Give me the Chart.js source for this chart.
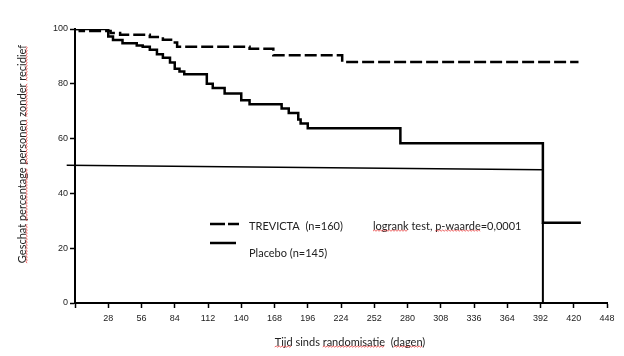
<!DOCTYPE html>
<html><head><meta charset="utf-8">
<script src="https://cdn.jsdelivr.net/npm/chart.js@4/dist/chart.umd.min.js"></script>
<style>html,body{margin:0;padding:0;background:#fff}#wrap{position:relative;width:624px;height:356px}</style>
</head><body><div id="wrap"><canvas id="c" width="624" height="356"></canvas></div>
<script>
// ---- data ----
const trevictaDays = [0, 4, 30, 38, 63, 74, 83, 86, 147, 167, 225, 424];
const trevictaPct  = [100, 99.3, 98.5, 97.9, 97.1, 96.1, 95.1, 93.5, 92.8, 90.4, 88.0, 88.0];
const placeboDays = [0, 28, 32, 40, 52, 57, 63, 69, 74, 80, 84, 88, 92, 111, 116, 126, 140, 147, 174, 180, 188, 190, 196, 274, 394, 426];
const placeboPct  = [100, 97.3, 96, 94.8, 94, 93.5, 92.4, 90.8, 89.5, 87.8, 85.5, 84.5, 83.5, 80, 78.5, 76.5, 74, 72.5, 71, 69.3, 67, 65.5, 63.8, 58.3, 29.3, 29.3];
const placeboDropDays = [394, 394];
const placeboDropPct  = [29.3, 0];
const refLineDays = [-7, 394];
const refLinePct  = [50.3, 48.6];
const xTickValues = [0, 28, 56, 84, 112, 140, 168, 196, 224, 252, 280, 308, 336, 364, 392, 420, 448];
const yTickValues = [0, 20, 40, 60, 80, 100];
const legendLabels = ['TREVICTA  (n=160)', 'Placebo (n=145)'];
const testLabel = 'logrank test, p-waarde=0,0001';
const xTitle = 'Tijd sinds randomisatie  (dagen)';
const yTitle = 'Geschat percentage personen zonder recidief';

const pts = (xs, ys) => xs.map((x, i) => ({x: x, y: ys[i]}));
const TEXT_FONT = '11px Lato, "Open Sans", sans-serif';

function squiggle(ctx, x1, x2, y) {
  ctx.save();
  ctx.strokeStyle = '#e84040';
  ctx.lineWidth = 0.8;
  ctx.beginPath();
  let up = true;
  ctx.moveTo(x1, y);
  for (let x = x1 + 1.5; x <= x2; x += 1.5) { ctx.lineTo(x, up ? y - 1 : y + 0.2); up = !up; }
  ctx.stroke();
  ctx.restore();
}
function underlineWords(ctx, text, x0, y, words) {
  // x0 = left of text, text already drawn with left alignment
  words.forEach(w => {
    const idx = text.indexOf(w);
    if (idx < 0) return;
    const a = x0 + ctx.measureText(text.slice(0, idx)).width;
    const b = a + ctx.measureText(w).width;
    squiggle(ctx, a, b, y);
  });
}

const annotate = {
  id: 'annotate',
  afterDraw(chart) {
    const ctx = chart.ctx;
    ctx.save();
    // legend samples
    ctx.strokeStyle = '#000';
    ctx.lineWidth = 2.5;
    ctx.beginPath(); ctx.moveTo(210, 224); ctx.lineTo(225, 224); ctx.moveTo(228, 224); ctx.lineTo(239, 224); ctx.stroke();
    ctx.beginPath(); ctx.moveTo(210, 243); ctx.lineTo(236, 243); ctx.stroke();
    ctx.font = TEXT_FONT;
    ctx.fillStyle = '#222';
    ctx.textBaseline = 'middle';
    ctx.textAlign = 'left';
    ctx.fillText(legendLabels[0], 249, 226);
    ctx.fillText(legendLabels[1], 249, 253);
    ctx.fillText(testLabel, 373, 226);
    underlineWords(ctx, testLabel, 373, 231, ['logrank', 'p-waarde']);
    // x title
    const xw = ctx.measureText(xTitle).width;
    const xl = 350 - xw / 2;
    ctx.fillText(xTitle, xl, 342);
    underlineWords(ctx, xTitle, xl, 347, ['Tijd', 'randomisatie', 'dagen']);
    // y title
    ctx.translate(22, 154);
    ctx.rotate(-Math.PI / 2);
    const yw = ctx.measureText(yTitle).width;
    ctx.fillText(yTitle, -yw / 2, 0);
    underlineWords(ctx, yTitle, -yw / 2, 5, ['Geschat', 'percentage', 'personen', 'zonder', 'recidief']);
    ctx.restore();
  }
};

new Chart(document.getElementById('c'), {
  type: 'line',
  data: {
    datasets: [
      { data: pts(trevictaDays, trevictaPct), borderColor: '#000', borderWidth: 2.5, borderDash: [12, 4], stepped: true, pointRadius: 0, fill: false },
      { data: pts(placeboDays, placeboPct), borderColor: '#000', borderWidth: 2.5, stepped: true, pointRadius: 0, fill: false },
      { data: pts(placeboDropDays, placeboDropPct), borderColor: '#000', borderWidth: 2, pointRadius: 0, fill: false },
      { data: pts(refLineDays, refLinePct), borderColor: '#000', borderWidth: 1.5, pointRadius: 0, fill: false, clip: false }
    ]
  },
  options: {
    responsive: false,
    animation: false,
    events: [],
    layout: { padding: { top: 29, right: 17, left: 0, bottom: 0 } },
    plugins: { legend: { display: false }, tooltip: { enabled: false } },
    scales: {
      x: {
        type: 'linear', min: 0, max: 448,
        afterBuildTicks: s => { s.ticks = xTickValues.map(v => ({ value: v })); },
        afterFit: s => { s.height = 53; },
        ticks: { callback: v => (v === 0 ? '' : String(v)), font: { family: '"Liberation Sans", Arial, sans-serif', size: 9 }, color: '#222', padding: 5, maxRotation: 0, autoSkip: false },
        grid: { drawOnChartArea: false, drawTicks: true, tickLength: 5, color: '#000', tickWidth: 1.5 },
        border: { display: true, color: '#000', width: 2 }
      },
      y: {
        min: 0, max: 100,
        afterBuildTicks: s => { s.ticks = yTickValues.map(v => ({ value: v })); },
        afterFit: s => { s.width = 75; },
        ticks: { font: { family: '"Liberation Sans", Arial, sans-serif', size: 9 }, color: '#222', padding: 2 },
        grid: { drawOnChartArea: false, drawTicks: true, tickLength: 5, color: '#000', tickWidth: 1.5 },
        border: { display: true, color: '#000', width: 2 }
      }
    }
  },
  plugins: [annotate]
});
</script></body></html>
